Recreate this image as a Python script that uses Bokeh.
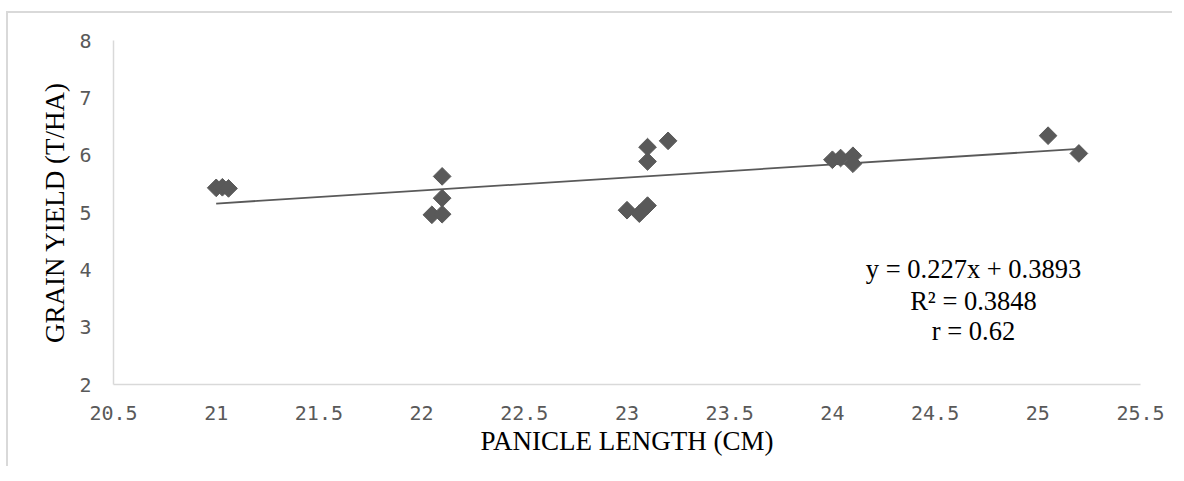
import numpy as np
from bokeh.plotting import figure
from bokeh.models import Range1d, Label, FixedTicker, ColumnDataSource
from bokeh.embed import file_html
from bokeh.resources import INLINE

# Data
panicle_length = [21.0, 21.03, 21.06,
                  22.1, 22.1, 22.05, 22.1,
                  23.1, 23.2, 23.1, 23.0, 23.06, 23.1,
                  24.0, 24.04, 24.1, 24.1,
                  25.05, 25.2]
grain_yield = [5.43, 5.44, 5.42,
               5.63, 5.25, 4.96, 4.97,
               6.14, 6.25, 5.89, 5.04, 4.98, 5.12,
               5.92, 5.95, 5.99, 5.85,
               6.34, 6.03]
slope = 0.227
intercept = 0.3893
r_squared = 0.3848
r_value = 0.62
x_ticks = [20.5, 21, 21.5, 22, 22.5, 23, 23.5, 24, 24.5, 25, 25.5]
y_ticks = [2, 3, 4, 5, 6, 7, 8]

p = figure(width=1166, height=455, output_backend="svg", toolbar_location=None,
           x_range=Range1d(20.5, 25.5), y_range=Range1d(2, 8),
           min_border_left=105, min_border_right=34, min_border_top=27, min_border_bottom=84)
p.styles = {"margin-top": "11px", "margin-left": "6px",
            "border-top": "2px solid #d9d9d9", "border-left": "2px solid #d9d9d9"}
p.outline_line_color = None
p.xgrid.visible = False
p.ygrid.visible = False

for ax in (p.xaxis[0], p.yaxis[0]):
    ax.axis_line_color = "#d9d9d9"
    ax.axis_line_width = 1.5
    ax.major_tick_line_color = None
    ax.minor_tick_line_color = None
    ax.major_tick_out = 0
    ax.major_tick_in = 0
    ax.major_label_text_font = "DejaVu Sans Mono"
    ax.major_label_text_font_size = "20px"
    ax.major_label_text_color = "#595959"
    ax.axis_label_text_font = "Liberation Serif"
    ax.axis_label_text_font_size = "27px"
    ax.axis_label_text_font_style = "normal"
    ax.axis_label_text_color = "#000000"

p.xaxis.ticker = FixedTicker(ticks=x_ticks)
p.yaxis.ticker = FixedTicker(ticks=y_ticks)
p.xaxis.major_label_overrides = {t: (str(t) if t != int(t) else str(int(t))) for t in x_ticks}
p.xaxis.axis_label = "PANICLE LENGTH (CM)"
p.yaxis.axis_label = "GRAIN YIELD (T/HA)"
p.xaxis.major_label_standoff = 21
p.yaxis.major_label_standoff = 22
p.xaxis.axis_label_standoff = 3
p.yaxis.axis_label_standoff = 6

# trend line from equation over the data range
xs = np.array([min(panicle_length), max(panicle_length)])
p.line(xs, slope * xs + intercept, line_color="#595959", line_width=1.8)

src = ColumnDataSource(dict(x=panicle_length, y=grain_yield))
p.scatter("x", "y", source=src, marker="square", size=12.5, angle=np.pi / 4,
          fill_color="#595959", line_color="#595959")

eq_lines = [f"y = {slope}x + {intercept}", f"R\u00b2 = {r_squared}", f"r = {r_value}"]
eq_y = [4.006, 3.448, 2.94]
for t, yy in zip(eq_lines, eq_y):
    p.add_layout(Label(x=24.687, y=yy, text=t, text_align="center", text_baseline="middle",
                       text_font="Liberation Serif", text_font_size="26.5px", text_color="#000000"))

open("out.html", "w").write(file_html(p, INLINE))
